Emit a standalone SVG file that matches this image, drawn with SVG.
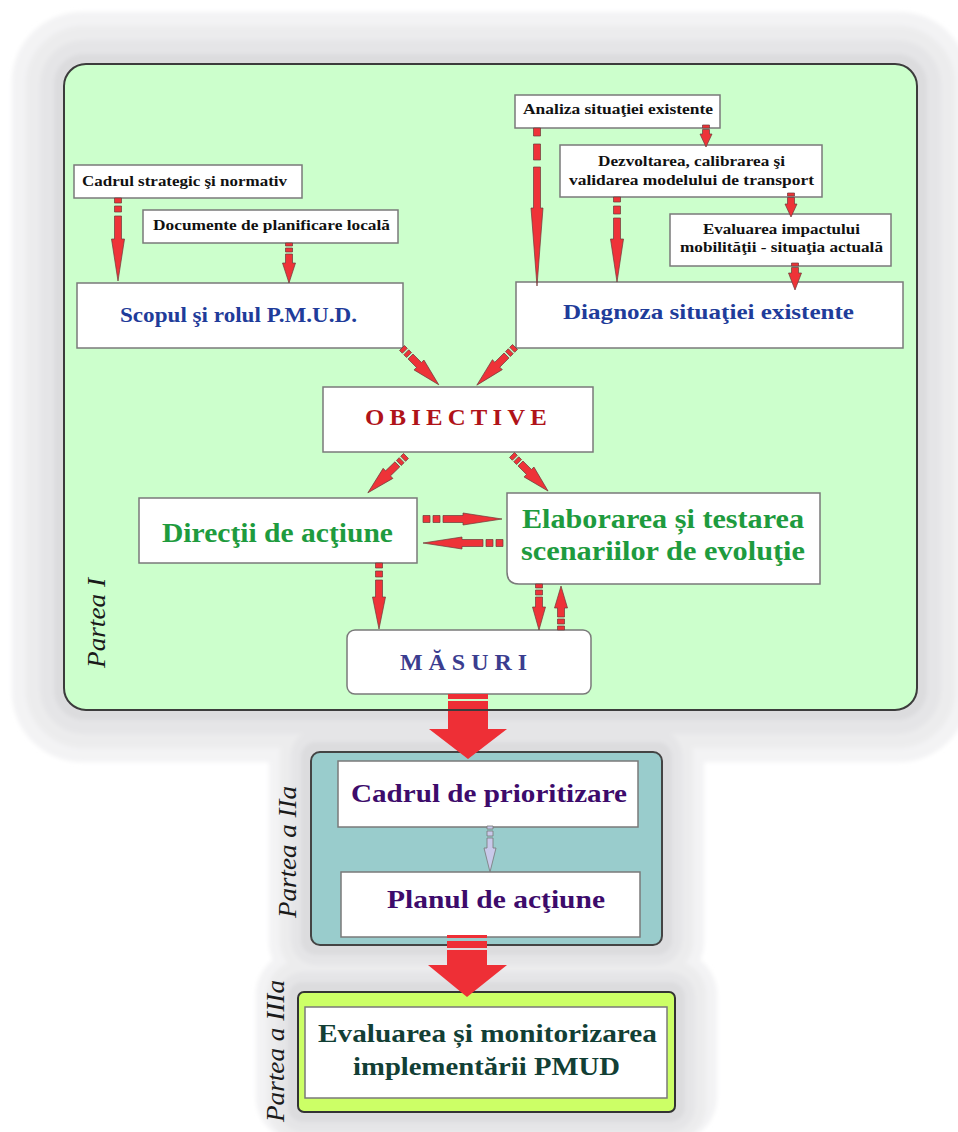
<svg xmlns="http://www.w3.org/2000/svg" width="958" height="1132" viewBox="0 0 958 1132">
<defs>
<filter id="soft" x="-5%" y="-5%" width="110%" height="110%"><feGaussianBlur stdDeviation="2"/></filter>
<style>
.box{fill:#fff;stroke:#7a7a7a;stroke-width:1.5}
.t{font-family:"Liberation Serif","DejaVu Serif",serif;font-weight:bold}
.sm{font-size:15px;fill:#111}
.blue{font-size:22px;fill:#1f3c9a}
.grn{font-size:27px;fill:#1e9b3e}
.pur{font-size:25px;fill:#3d0b6b}
.dk{font-size:26px;fill:#123f35}
.part{font-family:"Liberation Serif","DejaVu Serif",serif;font-style:italic;font-size:26px;fill:#1a1a1a}
.ar{fill:#ee3338;stroke:#6a3a3a;stroke-width:0.7}
.big{fill:#ee2f36}
.ga{fill:#c9c9ea;stroke:#777;stroke-width:0.8}
</style>
</defs>
<g id="shadow" filter="url(#soft)">
<g fill="#f3f3f4">
<rect x="12" y="12" width="957" height="750" rx="70"/>
<rect x="269" y="700" width="435" height="287" rx="45"/>
<rect x="256" y="950" width="461" height="192" rx="45"/>
</g>
<g fill="#ececed">
<rect x="26" y="26" width="929" height="722" rx="58"/>
<rect x="280" y="720" width="413" height="256" rx="35"/>
<rect x="267" y="960" width="439" height="180" rx="35"/>
</g>
<g fill="#e5e5e7">
<rect x="40" y="40" width="901" height="694" rx="44"/>
<rect x="291" y="730" width="391" height="235" rx="25"/>
<rect x="278" y="972" width="417" height="160" rx="25"/>
</g>
<g fill="#dcdcde">
<rect x="54" y="54" width="873" height="666" rx="30"/>
<rect x="301" y="742" width="371" height="213" rx="15"/>
<rect x="288" y="982" width="397" height="140" rx="15"/>
</g>
</g>
<g id="partea1">
<rect x="64" y="64" width="853" height="646" rx="22" fill="#ccffcc" stroke="#3c3c3c" stroke-width="2"/>
<text class="part" transform="translate(105,668) rotate(-90)" textLength="90" lengthAdjust="spacingAndGlyphs">Partea I</text>
</g>
<g id="partea2">
<rect x="311" y="752" width="351" height="193" rx="9" fill="#99cccc" stroke="#444" stroke-width="2"/>
<text class="part" transform="translate(296,918) rotate(-90)" textLength="132" lengthAdjust="spacingAndGlyphs">Partea a IIa</text>
</g>
<g id="partea3">
<rect x="298" y="992" width="377" height="120" rx="6" fill="#ccff66" stroke="#333" stroke-width="2"/>
<text class="part" transform="translate(284,1122) rotate(-90)" textLength="142" lengthAdjust="spacingAndGlyphs">Partea a IIIa</text>
</g>
<g id="cadrul-strategic">
<rect class="box" x="74" y="165" width="228" height="33"/>
<text class="t sm" x="82" y="186" textLength="205" lengthAdjust="spacingAndGlyphs">Cadrul strategic şi normativ</text>
</g>
<g id="documente">
<rect class="box" x="143" y="210" width="255" height="33"/>
<text class="t sm" x="153" y="230" textLength="237" lengthAdjust="spacingAndGlyphs">Documente de planificare locală</text>
</g>
<g id="scopul">
<rect class="box" x="77" y="283" width="326" height="65"/>
<text class="t blue" x="120" y="322" textLength="237" lengthAdjust="spacingAndGlyphs">Scopul şi rolul P.M.U.D.</text>
</g>
<g id="analiza">
<rect class="box" x="515" y="95" width="205" height="33"/>
<text class="t sm" x="523" y="114" textLength="190" lengthAdjust="spacingAndGlyphs">Analiza situaţiei existente</text>
</g>
<g id="dezvoltarea">
<rect class="box" x="560" y="145" width="262" height="52"/>
<text class="t sm" x="598" y="166" textLength="187" lengthAdjust="spacingAndGlyphs">Dezvoltarea, calibrarea şi</text>
<text class="t sm" x="569" y="185" textLength="245" lengthAdjust="spacingAndGlyphs">validarea modelului de transport</text>
</g>
<g id="evaluarea-impact">
<rect class="box" x="670" y="214" width="221" height="52"/>
<text class="t sm" x="703" y="234" textLength="157" lengthAdjust="spacingAndGlyphs">Evaluarea impactului</text>
<text class="t sm" x="680" y="252" textLength="203" lengthAdjust="spacingAndGlyphs">mobilităţii - situaţia actuală</text>
</g>
<g id="diagnoza">
<rect class="box" x="516" y="282" width="387" height="66"/>
<text class="t blue" x="563" y="319" textLength="291" lengthAdjust="spacingAndGlyphs">Diagnoza situaţiei existente</text>
</g>
<g id="obiective">
<rect class="box" x="323" y="387" width="270" height="65"/>
<text class="t" x="365" y="425" font-size="24" fill="#b01319" letter-spacing="5" textLength="187" lengthAdjust="spacingAndGlyphs">OBIECTIVE</text>
</g>
<g id="directii">
<rect class="box" x="139" y="498" width="278" height="65"/>
<text class="t grn" x="162" y="542" textLength="231" lengthAdjust="spacingAndGlyphs">Direcţii de acţiune</text>
</g>
<g id="elaborarea">
<path class="box" d="M507,493H820V584H519Q507,584 507,572Z"/>
<text class="t grn" x="522" y="528" textLength="282" lengthAdjust="spacingAndGlyphs">Elaborarea și testarea</text>
<text class="t grn" x="521" y="560" textLength="284" lengthAdjust="spacingAndGlyphs">scenariilor de evoluţie</text>
</g>
<g id="masuri">
<rect class="box" x="347" y="630" width="244" height="64" rx="8"/>
<text class="t" x="400" y="670" font-size="24" fill="#3b3d8f" letter-spacing="6" textLength="133" lengthAdjust="spacingAndGlyphs">MĂSURI</text>
</g>
<g id="cadrul-prioritizare">
<rect class="box" x="338" y="761" width="300" height="66"/>
<text class="t pur" x="351" y="802" textLength="276" lengthAdjust="spacingAndGlyphs">Cadrul de prioritizare</text>
</g>
<g id="planul">
<rect class="box" x="341" y="872" width="299" height="65"/>
<text class="t pur" x="387" y="908" textLength="218" lengthAdjust="spacingAndGlyphs">Planul de acţiune</text>
</g>
<g id="evaluare-monitorizare">
<rect class="box" x="305" y="1007" width="362" height="91"/>
<text class="t dk" x="318" y="1042" textLength="339" lengthAdjust="spacingAndGlyphs">Evaluarea și monitorizarea</text>
<text class="t dk" x="353" y="1075" textLength="267" lengthAdjust="spacingAndGlyphs">implementării PMUD</text>
</g>
<g id="connectors">
<path class="ar" transform="translate(118,198) rotate(90)" d="M0,-3.5H5V3.5H0Z M8,-3.5H14V3.5H8Z M18,-3.5H41V-6.5L83,0L41,6.5V3.5H18Z"/>
<path class="ar" transform="translate(289,243) rotate(90)" d="M0,-3.5H3V3.5H0Z M5,-3.5H9V3.5H5Z M11,-3.5H20V-6.5L40,0L20,6.5V3.5H11Z"/>
<path class="ar" transform="translate(537,128) rotate(90)" d="M0,-3.5H8V3.5H0Z M16,-3.5H32V3.5H16Z M39,-3.5H80V-6L158,0L80,6V3.5H39Z"/>
<path class="ar" transform="translate(706,125) rotate(90)" d="M0,-3.5H3V3.5H0Z M4.5,-3.5H9V-6L22,0L9,6V3.5H4.5Z"/>
<path class="ar" transform="translate(617,197) rotate(90)" d="M0,-3.5H5V3.5H0Z M9,-3.5H17V3.5H9Z M21,-3.5H42V-6.5L85,0L42,6.5V3.5H21Z"/>
<path class="ar" transform="translate(791,193) rotate(90)" d="M0,-3.5H3V3.5H0Z M4.5,-3.5H11V-6L24,0L11,6V3.5H4.5Z"/>
<path class="ar" transform="translate(795,263) rotate(90)" d="M0,-3.5H3V3.5H0Z M4.5,-3.5H10V-6.5L27,0L10,6.5V3.5H4.5Z"/>
<path class="ar" transform="translate(402,348) rotate(45)" d="M0,-3.5H4V3.5H0Z M6,-3.5H10V3.5H6Z M12,-3.5H24V-7L52,0L24,7V3.5H12Z"/>
<path class="ar" transform="translate(515,347) rotate(135)" d="M0,-3.5H4V3.5H0Z M6,-3.5H10V3.5H6Z M12,-3.5H25V-7L54,0L25,7V3.5H12Z"/>
<path class="ar" transform="translate(406,456) rotate(136)" d="M0,-3.5H4V3.5H0Z M6,-3.5H10V3.5H6Z M12,-3.5H25V-7L53,0L25,7V3.5H12Z"/>
<path class="ar" transform="translate(512,455) rotate(45)" d="M0,-3.5H4V3.5H0Z M6,-3.5H10V3.5H6Z M12,-3.5H24V-7L51,0L24,7V3.5H12Z"/>
<path class="ar" transform="translate(423,519)" d="M0,-3.5H7V3.5H0Z M10,-3.5H17V3.5H10Z M20,-3.5H40V-6L79,0L40,6V3.5H20Z"/>
<path class="ar" transform="translate(503,543) rotate(180)" d="M0,-3.5H7V3.5H0Z M10,-3.5H17V3.5H10Z M20,-3.5H41V-6L80,0L41,6V3.5H20Z"/>
<path class="ar" transform="translate(379,563) rotate(90)" d="M0,-3.5H5V3.5H0Z M8,-3.5H14V3.5H8Z M17,-3.5H34V-6.5L66,0L34,6.5V3.5H17Z"/>
<path class="ar" transform="translate(539,584) rotate(90)" d="M0,-3.5H4V3.5H0Z M6,-3.5H11V3.5H6Z M13,-3.5H23V-6.5L46,0L23,6.5V3.5H13Z"/>
<path class="ar" transform="translate(561,630) rotate(-90)" d="M0,-3.5H4V3.5H0Z M6,-3.5H11V3.5H6Z M13,-3.5H22V-6.5L44,0L22,6.5V3.5H13Z"/>
<path class="ga" transform="translate(490,826) rotate(90)" d="M0,-3H3V3H0Z M5,-3H10V3H5Z M12,-3H22V-6L46,0L22,6V3H12Z"/>
<path class="big" d="M448,694H488V699H448Z M448,701H488V709H448Z M448,711H488V729H507L468,759L429,729H448Z"/>
<path class="big" d="M447,935H487V938H447Z M447,941H487V948H447Z M447,950H487V965H507L467,997L428,965H447Z"/>
</g>
</svg>
